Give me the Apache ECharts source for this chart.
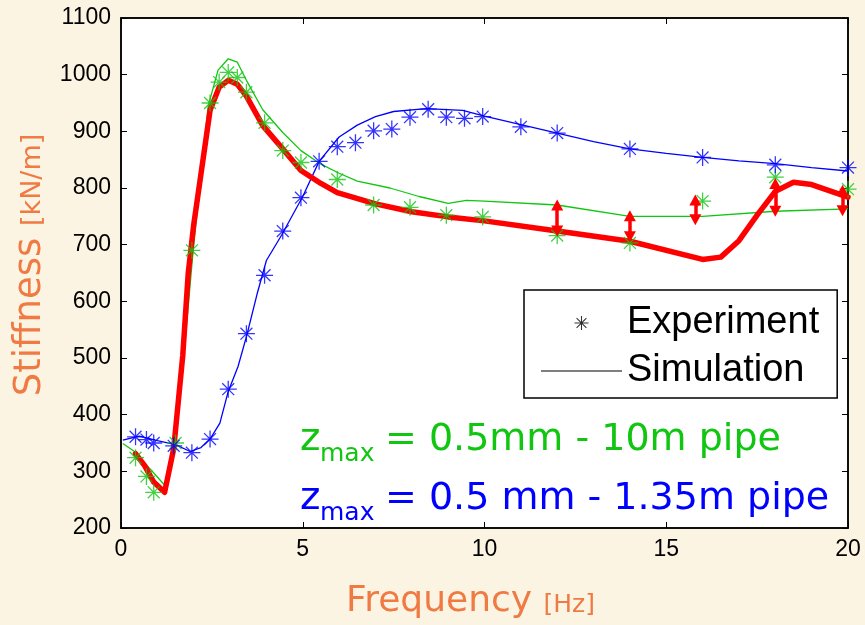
<!DOCTYPE html>
<html>
<head>
<meta charset="utf-8">
<script src="https://cdn.jsdelivr.net/npm/echarts@6.0.0/dist/echarts.min.js"></script>
<style>
html, body {margin: 0; padding: 0; background: #fcf4e2;}
#chart {width: 865px; height: 625px;}
</style>
</head>
<body>
<div id="chart"></div>
<script>
// tick values
var xTicks = [0, 5, 10, 15, 20];
var yTicks = [200, 300, 400, 500, 600, 700, 800, 900, 1000, 1100];

// z_max = 0.5 mm, 10 m pipe (green)
var greenSim = [[0.05, 349], [0.35, 336], [0.65, 315], [1.0, 290], [1.25, 272], [1.5, 360], [1.75, 520], [2.0, 700],
	[2.4, 945], [2.67, 1008], [2.95, 1028], [3.2, 1022], [3.45, 990], [3.9, 938], [4.45, 898], [4.95, 866],
	[5.5, 842], [6.0, 826], [6.5, 812], [7.4, 800], [8.2, 785], [9.0, 773], [9.5, 778], [10.0, 777],
	[12.0, 770], [14.0, 750], [16.0, 750], [18.0, 759], [20.0, 763]];
var greenExp = [[0.4, 324], [0.7, 291], [0.9, 263], [1.5, 350], [1.95, 690], [2.45, 950], [2.7, 987], [2.95, 1004],
	[3.2, 995], [3.45, 969], [3.95, 915], [4.45, 866], [4.95, 845], [5.95, 815], [6.95, 770], [7.95, 766],
	[8.95, 752], [9.95, 749], [12, 716], [14, 703], [16, 777], [18, 819], [20, 798]];

// z_max = 0.5 mm, 1.35 m pipe (blue)
var blueSim = [[0.05, 355], [0.5, 362], [1.0, 354], [1.5, 347], [1.9, 335], [2.2, 342], [2.45, 357], [2.72, 385],
	[2.95, 441], [3.22, 485], [3.46, 540], [3.74, 612], [4.0, 672], [4.42, 717], [5.0, 785], [5.45, 847],
	[6.0, 890], [6.5, 911], [7.0, 926], [7.5, 935], [8.4, 940], [9.4, 937], [10.0, 927], [11, 912],
	[12, 897], [13, 882], [14, 869], [15, 861], [16, 854], [17, 848], [18, 843], [19, 836], [20, 830]];
var blueExp = [[0.4, 361], [0.7, 356], [0.9, 350], [1.45, 345], [1.95, 333], [2.45, 357], [2.95, 445], [3.45, 543],
	[3.95, 646], [4.45, 724], [4.95, 783], [5.45, 847], [5.95, 873], [6.45, 880], [6.95, 901], [7.45, 904],
	[7.95, 925], [8.45, 939], [8.95, 925], [9.45, 923], [9.95, 926], [11, 908], [12, 897], [14, 869],
	[16, 854], [18, 841], [20, 836]];

// thick red curve
var redSim = [[0.4, 331], [0.65, 310], [0.9, 281], [1.2, 263], [1.45, 340], [1.7, 505], [1.85, 650], [2.0, 735],
	[2.45, 937], [2.7, 978], [2.95, 990], [3.2, 983], [3.45, 962], [3.9, 910], [4.45, 869], [4.95, 831],
	[5.5, 808], [5.95, 792], [7.0, 772], [8.0, 758], [9.0, 749], [10.0, 742], [12.0, 724], [14.0, 706],
	[16.0, 674], [16.5, 678], [17.0, 707], [17.5, 752], [18.0, 794], [18.5, 810], [19.0, 806], [20.0, 784]];

// red double arrows
var arrowX = [12, 14, 15.8, 18, 19.85];
var arrowLow = [724, 714, 744, 759, 760];
var arrowHigh = [770, 751, 779, 808, 796];

(function(){
	var green = '#11c611';
	var blue = '#0000ff';
	var red = '#ff0000';
	var orange = '#ef7a44';
	var star = 'path://M-0.75,-10L0.75,-10L0.75,10L-0.75,10Z M-10,-0.75L10,-0.75L10,0.75L-10,0.75Z ' +
		'M-6.47,-7.53L7.53,6.47L6.47,7.53L-7.53,-6.47Z M6.47,-7.53L7.53,-6.47L-6.47,7.53L-7.53,6.47Z';

	var axisBase = function (ticks, pos, extra) {
		var a = {
			type: 'value',
			position: pos,
			min: ticks[0],
			max: ticks[ticks.length - 1],
			interval: ticks[1] - ticks[0],
			axisLine: {show: true, onZero: false, lineStyle: {color: '#000', width: 1.5}},
			axisTick: {show: true, inside: true, length: 6, lineStyle: {color: '#000', width: 1}},
			axisLabel: {show: false},
			splitLine: {show: false}
		};
		for (var k in extra) a[k] = extra[k];
		return a;
	};
	var tickLabel = {
		show: true, color: '#000', fontSize: 23, fontFamily: 'Liberation Sans, Arial', margin: 10,
		formatter: function (v) { return String(v); }
	};

	var myChart = echarts.init(document.getElementById('chart'));
	var option = {
		backgroundColor: '#fcf4e2',
		animation: false,
		grid: {
			left: 121, right: 17, top: 18, bottom: 92,
			show: true, backgroundColor: '#fff', borderColor: '#000', borderWidth: 1.5
		},
		legend: {
			left: 524,
			top: 290,
			orient: 'vertical',
			selectedMode: false,
			backgroundColor: '#fff',
			borderColor: '#000',
			borderWidth: 1.5,
			padding: [14, 18, 8, 17],
			itemGap: 10,
			itemWidth: 81,
			itemHeight: 14,
			textStyle: {color: '#000', fontSize: 38, fontFamily: 'Liberation Sans, Arial'},
			data: [
				{name: 'Experiment', icon: star},
				{name: 'Simulation', icon: 'path://M0,0L80,0L80,1L0,1Z'}
			]
		},
		xAxis: [
			axisBase(xTicks, 'bottom', {
				axisLabel: tickLabel,
				name: '{a|Frequency }{b|[Hz]}',
				nameLocation: 'middle',
				nameGap: 56,
				nameTextStyle: {
					padding: [0, 28, 0, 0],
					rich: {
						a: {fontSize: 36, color: orange, fontFamily: 'DejaVu Sans', verticalAlign: 'bottom'},
						b: {fontSize: 25, color: orange, fontFamily: 'DejaVu Sans', verticalAlign: 'bottom', padding: [0, 0, 2, 0]}
					}
				}
			}),
			axisBase(xTicks, 'top', {})
		],
		yAxis: [
			axisBase(yTicks, 'left', {
				axisLabel: tickLabel,
				name: '{a|Stiffness }{b|[kN/m]}',
				nameLocation: 'middle',
				nameGap: 68,
				nameTextStyle: {
					padding: [0, 0, 0, 16],
					rich: {
						a: {fontSize: 37, color: orange, fontFamily: 'DejaVu Sans', verticalAlign: 'bottom'},
						b: {fontSize: 27, color: orange, fontFamily: 'DejaVu Sans', verticalAlign: 'bottom', padding: [0, 0, 2, 0]}
					}
				}
			}),
			axisBase(yTicks, 'right', {})
		],
		graphic: [
			{type: 'text', x: 300, y: 440, style: {text: 'z', fill: green, fontSize: 39, fontFamily: 'DejaVu Sans', verticalAlign: 'middle'}},
			{type: 'text', x: 320, y: 454, style: {text: 'max', fill: green, fontSize: 25, fontFamily: 'DejaVu Sans', verticalAlign: 'middle'}},
			{type: 'text', x: 385, y: 440, style: {text: '= 0.5mm - 10m pipe', fill: green, fontSize: 38, fontFamily: 'DejaVu Sans', verticalAlign: 'middle'}},
			{type: 'text', x: 300, y: 499, style: {text: 'z', fill: blue, fontSize: 39, fontFamily: 'DejaVu Sans', verticalAlign: 'middle'}},
			{type: 'text', x: 320, y: 513, style: {text: 'max', fill: blue, fontSize: 25, fontFamily: 'DejaVu Sans', verticalAlign: 'middle'}},
			{type: 'text', x: 385, y: 499, style: {text: '= 0.5 mm - 1.35m pipe', fill: blue, fontSize: 38, fontFamily: 'DejaVu Sans', verticalAlign: 'middle'}}
		],
		series: [
			{
				name: 'Experiment', type: 'scatter', data: [],
				symbol: star, itemStyle: {color: '#000'}
			},
			{
				name: 'Simulation', type: 'line', data: [],
				symbol: 'none', itemStyle: {color: '#000'}, lineStyle: {color: '#000', width: 1}
			},
			{
				name: 'blueSim', type: 'line', data: blueSim, symbol: 'none', silent: true,
				lineStyle: {color: blue, width: 1.3}, z: 2
			},
			{
				name: 'greenSim', type: 'line', data: greenSim, symbol: 'none', silent: true,
				lineStyle: {color: green, width: 1.3}, z: 2
			},
			{
				name: 'redSim', type: 'line', data: redSim, symbol: 'none', silent: true,
				lineStyle: {color: red, width: 5.5, join: 'round', cap: 'round'}, z: 3
			},
			{
				name: 'greenExp', type: 'scatter', data: greenExp, symbol: star, symbolSize: 17, silent: true,
				itemStyle: {color: green}, z: 4
			},
			{
				name: 'blueExp', type: 'scatter', data: blueExp, symbol: star, symbolSize: 17, silent: true,
				itemStyle: {color: blue}, z: 4
			},
			{
				name: 'arrows', type: 'line', data: [], silent: true, z: 5,
				markLine: {
					silent: true,
					animation: false,
					symbol: ['triangle', 'triangle'],
					symbolSize: [12, 11],
					label: {show: false},
					emphasis: {disabled: true},
					lineStyle: {color: red, width: 3.5, type: 'solid'},
					data: arrowX.map(function (x, i) {
						return [{coord: [x, arrowLow[i]]}, {coord: [x, arrowHigh[i]]}];
					})
				}
			}
		]
	};
	myChart.setOption(option);
	window.addEventListener("resize", function() {
		myChart.resize();
	});
})();
</script>
</body>
</html>
